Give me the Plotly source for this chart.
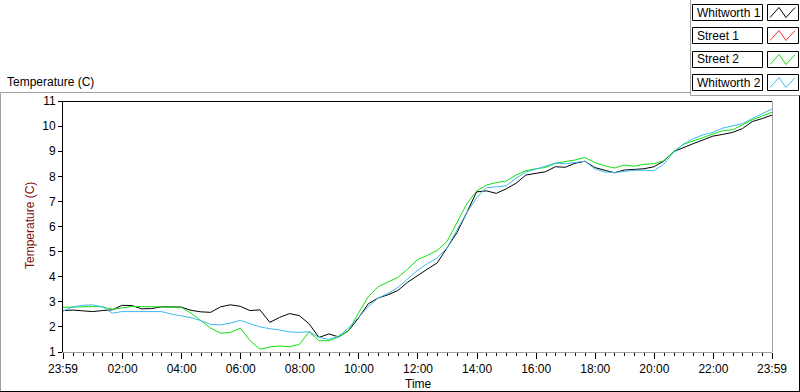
import plotly.graph_objects as go
import pandas as pd

# ---- data (20-minute samples from 23:59 to 23:59) ----
start_time = "2024-01-01 23:59"
n_samples = 73
sample_step = "20min"

whitworth_1 = [2.65, 2.67, 2.64, 2.61, 2.65, 2.68, 2.86, 2.85, 2.72, 2.73, 2.80, 2.79,
               2.79, 2.66, 2.60, 2.58, 2.80, 2.88, 2.82, 2.65, 2.68, 2.18, 2.38, 2.53,
               2.45, 2.12, 1.58, 1.72, 1.60, 1.85, 2.35, 2.92, 3.15, 3.28, 3.45, 3.78,
               4.05, 4.30, 4.55, 5.15, 5.75, 6.55, 7.38, 7.42, 7.32, 7.50, 7.72, 8.05,
               8.12, 8.18, 8.38, 8.36, 8.52, 8.60, 8.35, 8.25, 8.14, 8.25, 8.26, 8.30,
               8.38, 8.60, 8.98, 9.15, 9.30, 9.45, 9.60, 9.67, 9.75, 9.90, 10.18, 10.30,
               10.44]
street_1 = []  # no visible data in the reference
street_2 = [2.78, 2.80, 2.81, 2.81, 2.80, 2.70, 2.76, 2.81, 2.81, 2.81, 2.81, 2.81,
            2.78, 2.55, 2.25, 1.95, 1.75, 1.78, 1.95, 1.45, 1.11, 1.20, 1.24, 1.21,
            1.30, 1.80, 1.45, 1.45, 1.60, 1.85, 2.55, 3.20, 3.60, 3.80, 3.97, 4.30,
            4.68, 4.85, 5.05, 5.40, 6.15, 6.90, 7.41, 7.65, 7.75, 7.81, 8.05, 8.22,
            8.30, 8.35, 8.52, 8.57, 8.65, 8.75, 8.55, 8.42, 8.33, 8.45, 8.40, 8.48,
            8.50, 8.62, 8.98, 9.27, 9.41, 9.56, 9.70, 9.82, 9.85, 10.05, 10.25, 10.40,
            10.55]
whitworth_2 = [2.63, 2.80, 2.86, 2.88, 2.80, 2.55, 2.61, 2.61, 2.61, 2.61, 2.61, 2.51,
               2.45, 2.37, 2.25, 2.10, 2.08, 2.15, 2.26, 2.12, 2.00, 1.93, 1.88, 1.80,
               1.78, 1.81, 1.58, 1.50, 1.64, 1.95, 2.38, 2.80, 3.15, 3.33, 3.57, 3.92,
               4.25, 4.52, 4.75, 5.15, 5.85, 6.55, 7.15, 7.55, 7.58, 7.62, 7.92, 8.17,
               8.28, 8.40, 8.53, 8.50, 8.55, 8.60, 8.30, 8.17, 8.15, 8.20, 8.24, 8.24,
               8.22, 8.48, 8.95, 9.28, 9.50, 9.65, 9.75, 9.92, 10.01, 10.10, 10.30, 10.50,
               10.68]

series_names = ["Whitworth 1", "Street 1", "Street 2", "Whitworth 2"]
series_colors = ["#000000", "#ff3030", "#10e010", "#40b8f0"]

tick_times = ["2024-01-01 23:59", "2024-01-02 02:00", "2024-01-02 04:00",
              "2024-01-02 06:00", "2024-01-02 08:00", "2024-01-02 10:00",
              "2024-01-02 12:00", "2024-01-02 14:00", "2024-01-02 16:00",
              "2024-01-02 18:00", "2024-01-02 20:00", "2024-01-02 22:00",
              "2024-01-02 23:59"]
tick_labels = ["23:59", "02:00", "04:00", "06:00", "08:00", "10:00", "12:00",
               "14:00", "16:00", "18:00", "20:00", "22:00", "23:59"]
y_ticks = list(range(1, 12))

# ---- figure ----
times = pd.date_range(start=start_time, periods=n_samples, freq=sample_step)
FONT = "Liberation Sans"
W, H = 800, 392
L, R, T, B = 63, 28, 101, 40
PW, PH = W - L - R, H - T - B


def px(xp):
    return (xp - L) / PW


def py(yp):
    return (H - B - yp) / PH


fig = go.Figure()
all_series = [whitworth_1, street_1, street_2, whitworth_2]
for name, col, vals in zip(series_names, series_colors, all_series):
    fig.add_trace(go.Scatter(x=times[:len(vals)], y=vals, mode="lines", name=name,
                             line=dict(color=col, width=1), showlegend=False))

shapes = []


def line(x0, y0, x1, y1, color, width=1):
    shapes.append(dict(type="line", xref="paper", yref="paper",
                       x0=px(x0), y0=py(y0), x1=px(x1), y1=py(y1),
                       line=dict(color=color, width=width)))


# outer frame
line(0, 92.5, 690.5, 92.5, "#a0a0a0")
line(690.5, 0, 690.5, 95.5, "#a0a0a0")
line(690.5, 95.5, 800, 95.5, "#a0a0a0")
line(0.5, 92.5, 0.5, 392, "#a0a0a0")
line(0, 391.5, 800, 391.5, "#000000")
line(799.5, 95.5, 799.5, 392, "#000000")
# plot border: top black, right gray
line(63, 101.5, 772, 101.5, "#000000")
line(772.5, 101, 772.5, 352, "#a0a0a0")

annotations = []
# legend (LabVIEW style: name box + glyph box)
row_tops = [4.5, 27.5, 51.5, 74.5]
for top, name, col in zip(row_tops, series_names, series_colors):
    bot = top + 16
    shapes.append(dict(type="rect", xref="paper", yref="paper",
                       x0=px(692.5), x1=px(762.5), y0=py(top), y1=py(bot),
                       line=dict(color="#000000", width=1), fillcolor="white"))
    shapes.append(dict(type="rect", xref="paper", yref="paper",
                       x0=px(767.5), x1=px(798.5), y0=py(top), y1=py(bot),
                       line=dict(color="#000000", width=1), fillcolor="white"))
    path = "M {} {} L {} {} L {} {} L {} {}".format(
        px(770), py(bot - 3), px(779), py(top + 3), px(786), py(bot - 3), px(795), py(top + 3))
    shapes.append(dict(type="path", xref="paper", yref="paper", path=path,
                       line=dict(color=col, width=1)))
    annotations.append(dict(x=px(695), y=py(top + 8), xref="paper", yref="paper",
                            text=name, showarrow=False, xanchor="left", yanchor="middle",
                            font=dict(family=FONT, size=12, color="#000000")))

annotations.append(dict(x=px(5), y=py(82), xref="paper", yref="paper",
                        text="Temperature (C)", showarrow=False, xanchor="left",
                        yanchor="middle", font=dict(family=FONT, size=12, color="#000000")))
annotations.append(dict(x=px(30), y=py(226), xref="paper", yref="paper",
                        text="Temperature (C)", showarrow=False, textangle=-90,
                        xanchor="center", yanchor="middle",
                        font=dict(family=FONT, size=12, color="#801010")))
annotations.append(dict(x=px(418), y=py(384), xref="paper", yref="paper",
                        text="Time", showarrow=False, xanchor="center", yanchor="middle",
                        font=dict(family=FONT, size=12, color="#000000")))

fig.update_layout(
    width=W, height=H,
    margin=dict(l=L, r=R, t=T, b=B, pad=0),
    paper_bgcolor="white", plot_bgcolor="white",
    font=dict(family=FONT, size=12, color="#000000"),
    shapes=shapes, annotations=annotations,
    showlegend=False,
)
fig.update_xaxes(
    range=[tick_times[0], tick_times[-1]],
    tickmode="array", tickvals=tick_times, ticktext=tick_labels,
    ticks="outside", ticklen=6, tickcolor="#000000", tickwidth=1,
    showline=True, linecolor="#a0a0a0", linewidth=1,
    showgrid=False, zeroline=False,
    tickfont=dict(family=FONT, size=12, color="#000000"),
    minor=dict(ticks="outside", ticklen=3, tickcolor="#000000", tickwidth=1,
               dtick=20 * 60 * 1000, tick0="2024-01-02 00:00", showgrid=False),
)
fig.update_yaxes(
    range=[1, 11], tickmode="array", tickvals=y_ticks,
    ticks="outside", ticklen=4, tickcolor="#000000", tickwidth=1,
    showline=True, linecolor="#000000", linewidth=1,
    showgrid=False, zeroline=False,
    tickfont=dict(family=FONT, size=12, color="#000000"),
)

fig.write_html("out.html", config={"displayModeBar": False},
               post_script="document.body.style.margin='0';document.body.style.overflow='hidden';")
